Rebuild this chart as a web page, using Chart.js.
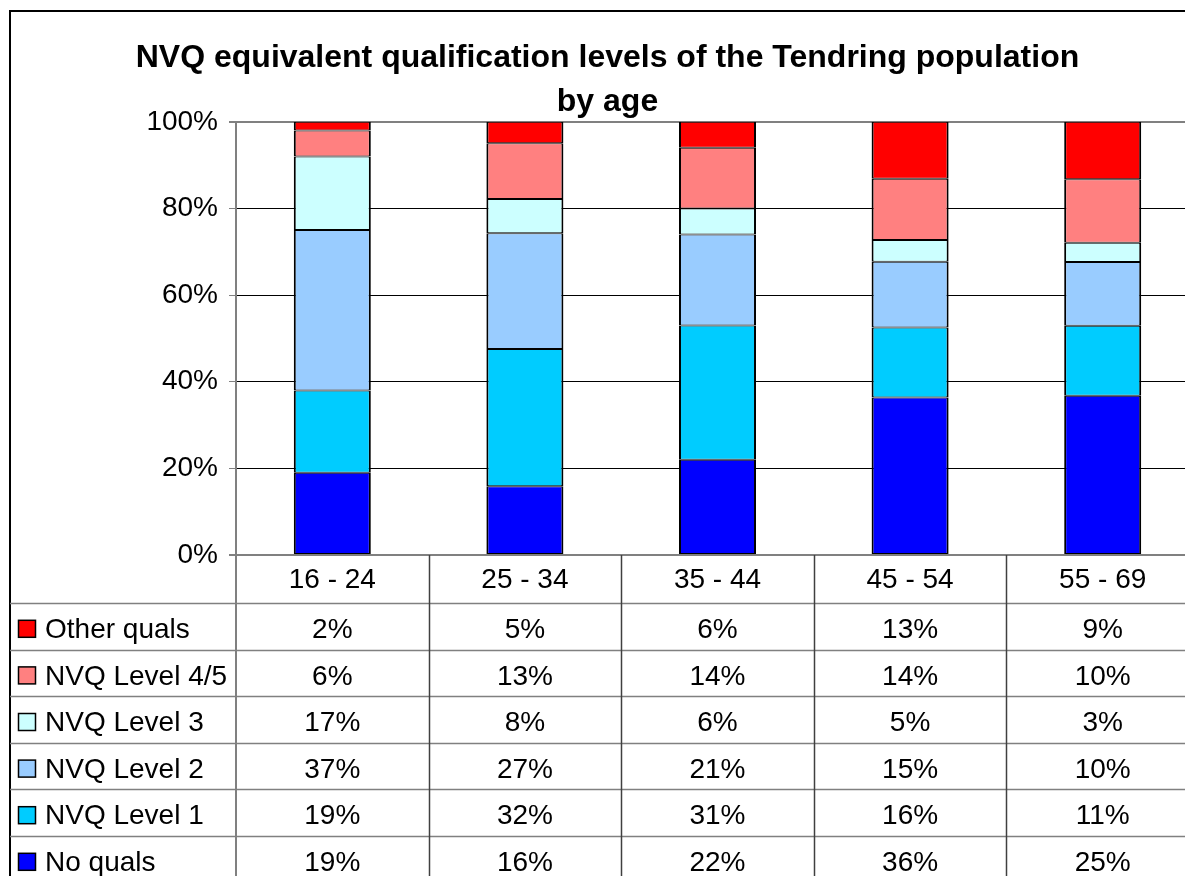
<!DOCTYPE html>
<html>
<head>
<meta charset="utf-8">
<title>NVQ equivalent qualification levels of the Tendring population by age</title>
<script src="https://cdn.jsdelivr.net/npm/chart.js@4.4.1/dist/chart.umd.min.js"></script>
<style>
  html, body { margin: 0; padding: 0; background: #fff; overflow: hidden; }
  #wrap { width: 1185px; height: 876px; overflow: hidden; }
  canvas { display: block; }
</style>
</head>
<body>
<div id="wrap"><canvas id="chart" width="1230" height="876"></canvas></div>
<script>
// Age bands and qualification shares (%) as listed in the data table
const categories = ['16 - 24', '25 - 34', '35 - 44', '45 - 54', '55 - 69'];
const noQuals    = [19, 16, 22, 36, 25];
const nvqLevel1  = [19, 32, 31, 16, 11];
const nvqLevel2  = [37, 27, 21, 15, 10];
const nvqLevel3  = [17, 8, 6, 5, 3];
const nvqLevel45 = [6, 13, 14, 14, 10];
const otherQuals = [2, 5, 6, 13, 9];
const yTicks = [0, 20, 40, 60, 80, 100];

const seriesNames  = ['No quals', 'NVQ Level 1', 'NVQ Level 2', 'NVQ Level 3', 'NVQ Level 4/5', 'Other quals'];
const seriesValues = [noQuals, nvqLevel1, nvqLevel2, nvqLevel3, nvqLevel45, otherQuals];
const seriesColors = ['#0000FF', '#00CCFF', '#99CCFF', '#CCFFFF', '#FF8080', '#FF0000'];

const FONT = 'Arial, "Liberation Sans", sans-serif';

// 100% stacked: each column is scaled to its own total
const totals = categories.map((c, i) => seriesValues.reduce((s, arr) => s + arr[i], 0));

// White background and the outer chart border
const frame = {
    id: 'frame',
    beforeDraw(chart) {
        const ctx = chart.ctx;
        ctx.save();
        ctx.fillStyle = '#fff';
        ctx.fillRect(0, 0, chart.width, chart.height);
        ctx.strokeStyle = '#000';
        ctx.lineWidth = 2;
        ctx.beginPath();
        ctx.moveTo(10, chart.height);
        ctx.lineTo(10, 11);
        ctx.lineTo(chart.width, 11);
        ctx.stroke();
        ctx.restore();
    }
};

// Excel style data table under the plot
const dataTable = {
    id: 'dataTable',
    afterDraw(chart) {
        const { ctx, chartArea } = chart;
        const xs = chart.scales.x;
        const colW = (chartArea.right - chartArea.left) / categories.length;
        const headTop = chartArea.bottom;
        const headBottom = 603;
        const rowH = 46.6;
        const rows = seriesNames.length;

        ctx.save();
        // horizontal rules
        ctx.strokeStyle = '#808080';
        ctx.lineWidth = 1.5;
        for (let r = 0; r <= rows; r++) {
            const y = Math.round(headBottom + r * rowH) + 0.5;
            ctx.beginPath();
            ctx.moveTo(10, y);
            ctx.lineTo(chart.width, y);
            ctx.stroke();
        }
        // vertical rules
        ctx.strokeStyle = '#808080';
        ctx.lineWidth = 2;
        ctx.beginPath();
        ctx.moveTo(chartArea.left, headTop);
        ctx.lineTo(chartArea.left, chart.height);
        ctx.stroke();
        ctx.strokeStyle = '#404040';
        ctx.lineWidth = 1.5;
        for (let c = 1; c <= categories.length; c++) {
            const x = Math.round(chartArea.left + c * colW) + 0.5;
            ctx.beginPath();
            ctx.moveTo(x, headTop);
            ctx.lineTo(x, chart.height);
            ctx.stroke();
        }

        ctx.fillStyle = '#000';
        ctx.font = '28px ' + FONT;
        ctx.textBaseline = 'middle';
        ctx.textAlign = 'center';
        categories.forEach((cat, i) => {
            ctx.fillText(cat, xs.getPixelForValue(i), (headTop + headBottom) / 2 + 1);
        });

        // rows top to bottom: last series first
        for (let r = 0; r < rows; r++) {
            const s = rows - 1 - r;
            const yc = headBottom + r * rowH + rowH / 2 + 4;
            ctx.fillStyle = seriesColors[s];
            ctx.fillRect(18.5, yc - 10, 17, 17);
            ctx.strokeStyle = '#000';
            ctx.lineWidth = 1.5;
            ctx.strokeRect(18.5, yc - 10, 17, 17);
            ctx.fillStyle = '#000';
            ctx.textAlign = 'left';
            ctx.fillText(seriesNames[s], 45, yc);
            ctx.textAlign = 'center';
            seriesValues[s].forEach((v, i) => {
                ctx.fillText(v + '%', xs.getPixelForValue(i), yc);
            });
        }
        ctx.restore();
    }
};

Chart.defaults.font.family = FONT;
Chart.defaults.font.size = 28;
Chart.defaults.color = '#000';

const chart = new Chart(document.getElementById('chart'), {
    type: 'bar',
    data: {
        labels: categories,
        datasets: seriesNames.map((name, s) => ({
            label: name,
            data: seriesValues[s].map((v, i) => v / totals[i] * 100),
            backgroundColor: seriesColors[s],
            borderColor: '#000',
            borderWidth: { top: 1, bottom: 1, left: 2, right: 2 },
            borderSkipped: false,
            barPercentage: 0.4,
            categoryPercentage: 1.0
        }))
    },
    options: {
        responsive: false,
        animation: false,
        layout: { padding: { left: 16, right: 31, top: 0, bottom: 321 } },
        plugins: {
            legend: { display: false },
            tooltip: { enabled: false },
            title: {
                display: true,
                text: 'NVQ equivalent qualification levels of the Tendring population',
                font: { size: 32, weight: 'bold', lineHeight: 1.2 },
                color: '#000',
                padding: { top: 39, bottom: 0 }
            },
            subtitle: {
                display: true,
                text: 'by age',
                font: { size: 32, weight: 'bold', lineHeight: 1.2 },
                color: '#000',
                padding: { top: 6, bottom: 0 }
            }
        },
        scales: {
            x: {
                stacked: true,
                display: false
            },
            y: {
                stacked: true,
                min: 0,
                max: 100,
                afterFit: (scale) => { scale.width = 220; },
                afterBuildTicks: (scale) => { scale.ticks = yTicks.map(v => ({ value: v })); },
                ticks: {
                    padding: 11,
                    callback: (v) => v + '%'
                },
                grid: {
                    tickLength: 7,
                    tickColor: '#808080',
                    color: (c) => (c.tick && (c.tick.value === 0 || c.tick.value === 100)) ? '#808080' : '#000',
                    lineWidth: (c) => (c.tick && (c.tick.value === 0 || c.tick.value === 100)) ? 2 : 1
                },
                border: { color: '#808080', width: 2 }
            }
        }
    },
    plugins: [frame, dataTable]
});
</script>
</body>
</html>
